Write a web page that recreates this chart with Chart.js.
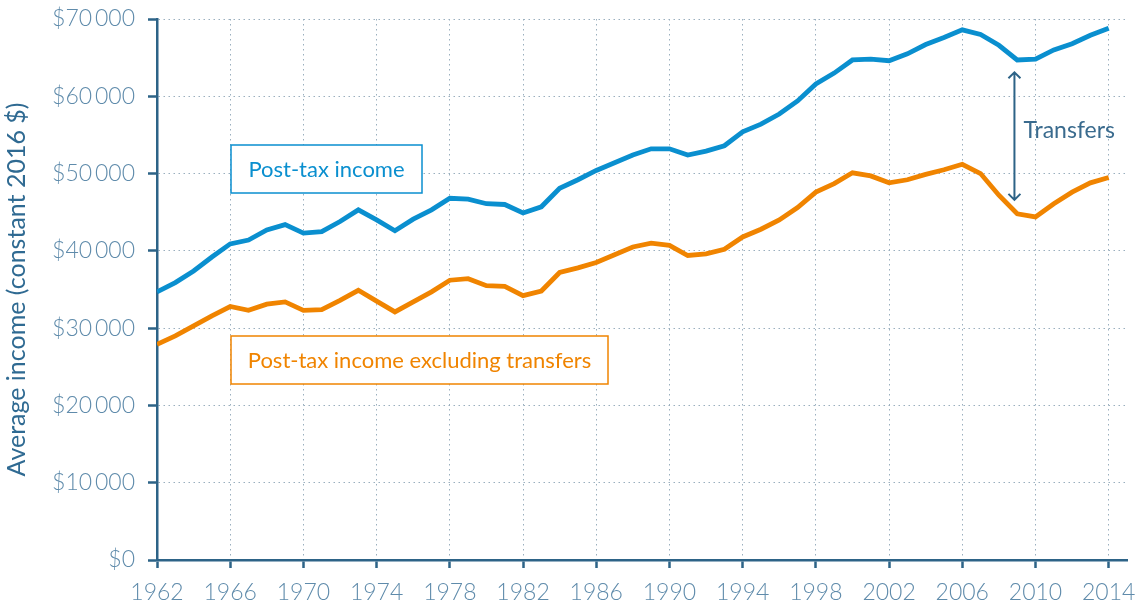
<!DOCTYPE html>
<html>
<head>
<meta charset="utf-8">
<script src="https://cdn.jsdelivr.net/npm/chart.js@4/dist/chart.umd.min.js"></script>
<style>
  html, body { margin: 0; padding: 0; background: #fff; }
  #wrap { width: 1142px; height: 603px; }
</style>
</head>
<body>
<div id="wrap"><canvas id="incomeChart" width="1142" height="603"></canvas></div>
<script>
// yearly values, constant 2016 dollars
const years = [1962, 1963, 1964, 1965, 1966, 1967, 1968, 1969, 1970, 1971, 1972, 1973, 1974, 1975,
  1976, 1977, 1978, 1979, 1980, 1981, 1982, 1983, 1984, 1985, 1986, 1987, 1988, 1989, 1990,
  1991, 1992, 1993, 1994, 1995, 1996, 1997, 1998, 1999, 2000, 2001, 2002, 2003, 2004, 2005,
  2006, 2007, 2008, 2009, 2010, 2011, 2012, 2013, 2014];

const postTaxIncome = [34700, 35900, 37400, 39200, 40900, 41400, 42700, 43400, 42300, 42500,
  43800, 45300, 44000, 42600, 44100, 45300, 46800, 46700, 46100, 46000, 44900, 45700, 48100,
  49200, 50400, 51400, 52400, 53200, 53200, 52400, 52900, 53600, 55400, 56400, 57700, 59400,
  61600, 63000, 64700, 64800, 64600, 65500, 66700, 67600, 68600, 68000, 66600, 64700, 64800,
  66000, 66800, 67900, 68800];

const postTaxNoTransfers = [27900, 29000, 30300, 31600, 32800, 32300, 33100, 33400, 32300, 32400,
  33600, 34900, 33500, 32100, 33400, 34700, 36200, 36400, 35500, 35400, 34200, 34800, 37200,
  37800, 38500, 39500, 40500, 41000, 40700, 39400, 39600, 40200, 41800, 42800, 44000, 45600,
  47600, 48700, 50100, 49700, 48800, 49200, 49900, 50500, 51200, 50000, 47200, 44800, 44400,
  46100, 47600, 48800, 49500];

const yearTicks = [1962, 1966, 1970, 1974, 1978, 1982, 1986, 1990, 1994, 1998, 2002, 2006, 2010, 2014];

const seriesNames = ['Post-tax income', 'Post-tax income excluding transfers'];
const gapLabel = 'Transfers';
const yTitle = 'Average income (constant 2016 $)';

const BLUE = '#0a8fcf';
const ORANGE = '#f08400';
const AXIS = '#2d6387';
const TICKTXT = '#5f8bab';
const GRID = '#9aafbe';
const FONT = 'Lato';

function toPoints(vals) {
  return years.map((y, i) => ({ x: y, y: vals[i] }));
}

function money(v) {
  if (v === 0) return '$0';
  const th = Math.floor(v / 1000);
  return '$' + th + '\u2009' + String(v % 1000).padStart(3, '0');
}

// labelled boxes and the transfers arrow
const notes = {
  id: 'notes',
  afterDraw(chart) {
    const { ctx, scales: { x, y } } = chart;
    ctx.save();

    const box = (x0, y0, w, h, color, text) => {
      ctx.fillStyle = '#fff';
      ctx.fillRect(x0, y0, w, h);
      ctx.strokeStyle = color;
      ctx.lineWidth = 1.5;
      ctx.strokeRect(x0, y0, w, h);
      ctx.fillStyle = color;
      ctx.font = '22px ' + FONT;
      ctx.textAlign = 'center';
      ctx.textBaseline = 'middle';
      ctx.fillText(text, x0 + w / 2, y0 + h / 2 + 1);
    };
    box(231, 145, 191, 48, BLUE, seriesNames[0]);
    box(231, 336, 377, 48, ORANGE, seriesNames[1]);

    // double headed arrow between the two series
    const ax = x.getPixelForValue(2008.85);
    const top = y.getPixelForValue(63100);
    const bot = y.getPixelForValue(46600);
    ctx.strokeStyle = AXIS;
    ctx.lineWidth = 2;
    ctx.beginPath();
    ctx.moveTo(ax, top);
    ctx.lineTo(ax, bot);
    ctx.moveTo(ax - 6, top + 6);
    ctx.lineTo(ax, top);
    ctx.lineTo(ax + 6, top + 6);
    ctx.moveTo(ax - 6, bot - 6);
    ctx.lineTo(ax, bot);
    ctx.lineTo(ax + 6, bot - 6);
    ctx.stroke();

    ctx.fillStyle = '#3a6b8e';
    ctx.font = '23px ' + FONT;
    ctx.textAlign = 'left';
    ctx.textBaseline = 'middle';
    ctx.fillText(gapLabel, ax + 9, y.getPixelForValue(55500));
    ctx.restore();
  }
};

const data = {
  datasets: [{
    label: seriesNames[0],
    data: toPoints(postTaxIncome),
    borderColor: BLUE,
    borderWidth: 4.8,
    pointRadius: 0,
    tension: 0
  }, {
    label: seriesNames[1],
    data: toPoints(postTaxNoTransfers),
    borderColor: ORANGE,
    borderWidth: 4.8,
    pointRadius: 0,
    tension: 0
  }]
};

const config = {
  type: 'line',
  data: data,
  plugins: [notes],
  options: {
    responsive: false,
    animation: false,
    layout: { padding: { left: 0, top: 19, right: 15, bottom: 0 } },
    plugins: { legend: { display: false }, tooltip: { enabled: false } },
    scales: {
      x: {
        type: 'linear',
        min: 1962,
        max: 2015,
        afterBuildTicks: (s) => { s.ticks = yearTicks.map(v => ({ value: v })); },
        afterFit: (s) => { s.height = 43; s.paddingLeft = 0; s.paddingRight = 0; },
        ticks: {
          color: TICKTXT,
          font: { family: FONT, size: 23, weight: '300' },
          padding: 11,
          maxRotation: 0,
          autoSkip: false,
          callback: (v) => String(v)
        },
        grid: { color: GRID, lineWidth: 1, tickLength: 8, tickColor: AXIS, tickWidth: 2.5 },
        border: { color: AXIS, width: 2.5, dash: [1.5, 3.5] }
      },
      y: {
        min: 0,
        max: 70000,
        afterFit: (s) => { s.width = 157; s.paddingTop = 0; s.paddingBottom = 0; },
        ticks: {
          stepSize: 10000,
          color: TICKTXT,
          font: { family: FONT, size: 23, weight: '300' },
          padding: 13,
          callback: (v) => money(v)
        },
        grid: { color: GRID, lineWidth: 1, tickLength: 9, tickColor: AXIS, tickWidth: 2.5 },
        border: { color: AXIS, width: 2.5, dash: [1.5, 3.5] },
        title: {
          display: true,
          text: yTitle,
          color: '#2f6a92',
          font: { family: FONT, size: 25 },
          padding: { top: 2, bottom: 0 }
        }
      }
    }
  }
};

Chart.defaults.font.family = FONT;
const myChart = new Chart(document.getElementById('incomeChart'), config);
</script>
</body>
</html>
